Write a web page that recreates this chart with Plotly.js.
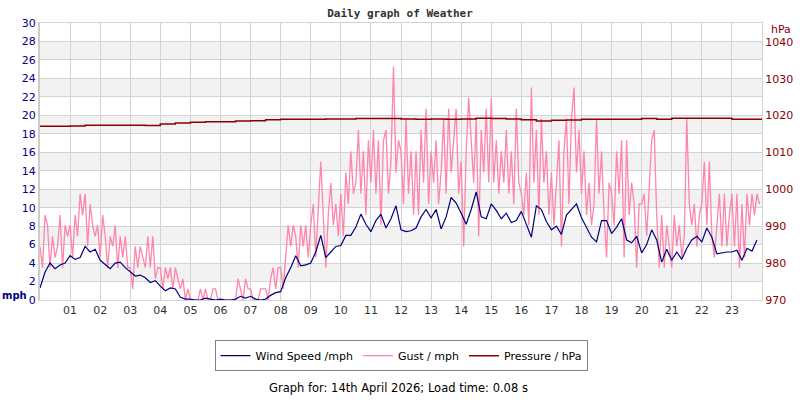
<!DOCTYPE html>
<html>
<head>
<meta charset="utf-8">
<script src="https://cdn.plot.ly/plotly-3.0.1.min.js"></script>
<style>
  body { margin: 0; background: #fff; }
  #chart { width: 800px; height: 400px; }
</style>
</head>
<body>
<div id="chart"></div>
<script>
// wind speed, one value every 10 minutes (mph)
var windSpeed = [
  1.3, 3.0, 4.0, 3.4, 3.8, 4.0,
  4.8, 4.4, 4.6, 5.8, 5.2, 5.5,
  4.3, 3.8, 3.4, 4.0, 4.1, 3.5,
  3.0, 2.6, 2.7, 2.4, 1.9, 2.1,
  1.5, 1.0, 1.3, 1.2, 0.3, 0.1,
  0.1, 0, 0, 0.2, 0.1, 0,
  0.1, 0, 0, 0.1, 0.4, 0.2,
  0.4, 0.1, 0, 0.1, 0.5, 0.8,
  0.9, 2.4, 3.5, 4.8, 3.7, 3.8,
  4.0, 5.2, 7.0, 4.6, 5.2, 5.8,
  5.9, 7.0, 7.0, 7.9, 9.3, 8.2,
  7.4, 8.6, 9.3, 7.8, 8.8, 10.2,
  7.6, 7.4, 7.5, 7.8, 9.0, 9.8,
  8.9, 9.8, 7.7, 9.0, 11.1, 10.5,
  9.4, 8.2, 9.8, 11.7, 9.0, 8.8,
  10.4, 9.7, 8.8, 9.4, 8.4, 8.6,
  9.6, 8.2, 6.8, 10.2, 9.8, 8.5,
  7.6, 8.0, 7.1, 9.2, 9.8, 10.4,
  8.9, 7.8, 6.8, 6.3, 8.6, 8.6,
  7.2, 7.9, 8.8, 6.5, 6.2, 6.9,
  5.1, 6.0, 7.6, 6.5, 4.1, 5.5,
  4.3, 5.2, 4.4, 5.6, 6.5, 6.9,
  6.3, 7.8, 6.8, 5.0, 5.1, 5.2,
  5.2, 5.4, 4.3, 5.6, 5.3, 6.5
];

// gust, one value every 5 minutes (mph)
var gust = [
  5.8, 3.5, 9.2, 8.1, 3.5, 6.9, 4.6, 5.8, 9.2, 3.5, 8.1, 6.9,
  8.1, 4.6, 9.2, 6.9, 11.5, 9.2, 11.5, 5.8, 10.4, 8.1, 6.9, 8.1,
  4.6, 9.2, 6.9, 3.5, 6.9, 5.8, 8.1, 3.5, 6.9, 4.6, 6.9, 3.5,
  3.5, 1.2, 5.8, 3.5, 5.8, 4.6, 3.5, 6.9, 3.5, 6.9, 2.3, 3.5,
  3.5, 1.2, 3.5, 2.3, 3.5, 1.2, 3.5, 2.3, 1.2, 2.3, 0, 1.2,
  0, 0, 0, 0, 1.2, 0, 1.2, 0, 0, 1.2, 1.2, 0,
  0, 0, 0, 0, 0, 0, 0, 2.3, 1.2, 0, 2.3, 1.2,
  1.2, 0, 0, 0, 1.2, 1.2, 1.2, 0, 2.3, 3.5, 1.2, 3.5,
  3.5, 1.2, 4.6, 8.1, 5.8, 8.1, 6.9, 3.5, 8.1, 5.8, 8.1, 4.6,
  8.1, 10.4, 4.6, 10.4, 15.0, 9.2, 3.5, 9.2, 12.7, 8.1, 10.4, 6.9,
  11.5, 6.9, 13.8, 10.4, 16.1, 11.5, 12.7, 18.4, 11.5, 16.1, 9.2, 17.3,
  12.7, 18.4, 11.5, 17.3, 8.1, 17.3, 18.4, 11.5, 15.0, 25.3, 13.8, 17.3,
  16.1, 10.4, 19.6, 11.5, 16.1, 9.2, 16.1, 9.2, 18.4, 12.7, 20.7, 10.4,
  16.1, 12.7, 17.3, 10.4, 13.8, 19.6, 11.5, 20.7, 13.8, 17.3, 20.7, 11.5,
  15.0, 5.8, 16.1, 21.9, 17.3, 12.7, 19.6, 6.9, 18.4, 13.8, 20.7, 12.7,
  21.9, 12.7, 17.3, 11.5, 16.1, 12.7, 18.4, 11.5, 16.1, 10.4, 20.7, 12.7,
  11.5, 9.2, 13.8, 8.1, 23.0, 12.7, 18.4, 9.2, 19.6, 12.7, 16.1, 9.2,
  13.8, 8.1, 12.7, 17.3, 5.8, 16.1, 19.6, 10.4, 19.6, 23.0, 13.8, 18.4,
  11.5, 16.1, 9.2, 12.7, 8.1, 10.4, 19.6, 11.5, 16.1, 9.2, 4.6, 12.7,
  11.5, 8.1, 16.1, 11.5, 17.3, 4.6, 17.3, 9.2, 12.7, 10.4, 3.5, 10.4,
  10.4, 11.5, 6.9, 12.7, 17.3, 18.4, 9.2, 3.5, 9.2, 3.5, 8.1, 5.8,
  3.5, 9.2, 5.8, 8.1, 4.6, 6.9, 19.6, 10.4, 8.1, 10.4, 5.8, 9.2,
  10.4, 15.0, 8.1, 15.0, 6.9, 4.6, 8.1, 11.5, 5.8, 11.5, 5.8, 9.2,
  11.5, 5.8, 11.5, 3.5, 10.4, 4.6, 11.5, 8.1, 11.5, 9.2, 11.5, 10.4
];

// pressure, one value every 30 minutes (hPa)
var pressure = [
  1017.1, 1017.1, 1017.2, 1017.4, 1017.4, 1017.4, 1017.4, 1017.3,
  1017.7, 1018.0, 1018.2, 1018.3, 1018.3, 1018.5, 1018.6, 1018.9,
  1019.0, 1019.0, 1019.0, 1019.1, 1019.1, 1019.2, 1019.2, 1019.2,
  1019.1, 1019.0, 1019.1, 1019.0, 1019.1, 1019.3, 1019.2, 1019.1,
  1018.9, 1018.5, 1018.7, 1018.8, 1019.0, 1019.0, 1019.0, 1019.0,
  1019.2, 1019.0, 1019.3, 1019.3, 1019.3, 1019.3, 1019.0, 1019.0,
  1019.0
];

var hourTicks = [1, 2, 3, 4, 5, 6, 7, 8, 9, 10, 11, 12, 13, 14, 15, 16, 17, 18, 19, 20, 21, 22, 23];
var hourLabels = ['01', '02', '03', '04', '05', '06', '07', '08', '09', '10', '11', '12',
  '13', '14', '15', '16', '17', '18', '19', '20', '21', '22', '23'];
var mphTicks = [0, 2, 4, 6, 8, 10, 12, 14, 16, 18, 20, 22, 24, 26, 28, 30];
var hpaTicks = [970, 980, 990, 1000, 1010, 1020, 1030, 1040];

// time of each reading in hours
var windTime = windSpeed.map((v, i) => i / 6);
var gustTime = gust.map((v, i) => i / 12);
var pressTime = pressure.map((v, i) => i / 2);

var NAVY = '#000080';
var DARKRED = '#8b0000';

var traces = [
  {
    x: gustTime, y: gust, name: 'Gust / mph',
    type: 'scatter', mode: 'lines', legendrank: 2,
    line: { color: '#ff85ab', width: 1.3 }
  },
  {
    x: windTime, y: windSpeed, name: 'Wind Speed /mph',
    type: 'scatter', mode: 'lines', legendrank: 1,
    line: { color: NAVY, width: 1.2 }
  },
  {
    x: pressTime, y: pressure, name: 'Pressure / hPa', yaxis: 'y2',
    type: 'scatter', mode: 'lines', legendrank: 3,
    line: { color: DARKRED, width: 1.5, shape: 'hv' }
  }
];

// grey bands every other 2 mph step
var bands = [];
for (var b = 2; b < 30; b += 4) {
  bands.push({
    type: 'rect', xref: 'paper', yref: 'y', x0: 0, x1: 1, y0: b, y1: b + 2,
    fillcolor: '#f2f2f2', line: { width: 0 }, layer: 'below'
  });
}

var layout = {
  width: 800, height: 400,
  margin: { l: 40, r: 38, t: 23, b: 100 },
  paper_bgcolor: '#fff', plot_bgcolor: '#fff',
  font: { family: 'DejaVu Sans', size: 11, color: '#333' },
  title: {
    text: '<b>Daily graph of Weather</b>',
    font: { family: 'DejaVu Sans Mono', size: 11, color: '#333' },
    x: 0.5, xanchor: 'center', y: 0.967, yanchor: 'middle'
  },
  showlegend: true,
  legend: {
    orientation: 'h', x: 0.5, xanchor: 'center', y: -0.145, yanchor: 'top',
    bordercolor: '#808080', borderwidth: 1, bgcolor: '#fff',
    font: { family: 'DejaVu Sans', size: 11, color: '#000' },
    itemwidth: 30, traceorder: 'normal'
  },
  xaxis: {
    range: [0, 24], tickvals: hourTicks, ticktext: hourLabels,
    showgrid: true, gridcolor: '#d3d3d3', gridwidth: 1,
    showline: true, linecolor: '#d3d3d3', mirror: true,
    ticks: '', zeroline: false, fixedrange: true,
    tickfont: { size: 11, color: '#333' }
  },
  yaxis: {
    range: [0, 30], tickvals: mphTicks,
    showgrid: true, gridcolor: '#d3d3d3', gridwidth: 1,
    showline: true, linecolor: '#cccccc', linewidth: 2,
    ticks: '', zeroline: false,
    tickfont: { size: 11, color: NAVY }
  },
  yaxis2: {
    range: [970, 1045.1], tickvals: hpaTicks, overlaying: 'y', side: 'right',
    showgrid: false, showline: true, linecolor: '#d3d3d3',
    ticks: '', zeroline: false,
    tickfont: { size: 11, color: DARKRED }
  },
  shapes: bands,
  annotations: [
    {
      text: '<b>mph</b>', xref: 'paper', yref: 'paper', x: -0.055, y: 0.015,
      xanchor: 'left', yanchor: 'middle', showarrow: false,
      font: { size: 10, color: NAVY }
    },
    {
      text: 'hPa', xref: 'paper', yref: 'paper', x: 1.026, y: 0.978,
      xanchor: 'center', yanchor: 'middle', showarrow: false,
      font: { size: 11, color: DARKRED }
    },
    {
      text: 'Graph for: 14th April 2026; Load time: 0.08 s',
      xref: 'paper', yref: 'paper', x: 0.497, y: -0.318,
      xanchor: 'center', yanchor: 'middle', showarrow: false,
      font: { size: 11.5, color: '#000' }
    }
  ]
};

Plotly.newPlot('chart', traces, layout, { displayModeBar: false, staticPlot: true });
</script>
</body>
</html>
